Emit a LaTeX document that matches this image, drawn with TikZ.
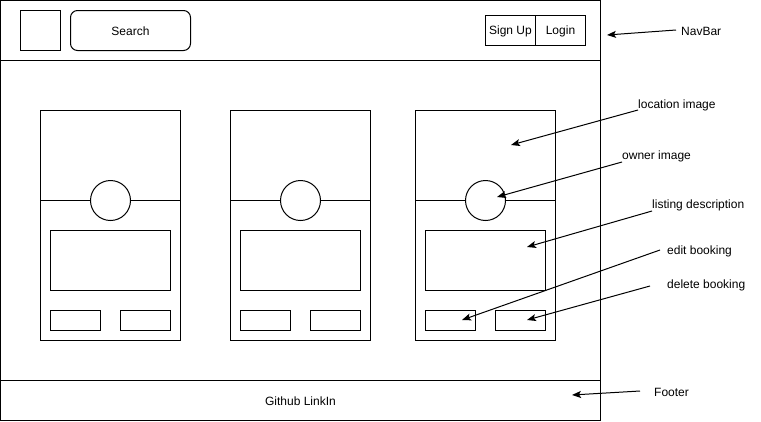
\documentclass[tikz,border=0pt]{standalone}
\usepackage{fontspec}
\setmainfont{Liberation Sans}
\usetikzlibrary{arrows.meta}
\tikzset{
	wire/.style={draw=black, line width=1pt},
	note/.style={inner sep=0pt, font=\fontsize{12}{14}\selectfont, yshift=-1pt},
	pointer/.style={line width=1pt, -{Stealth[length=9pt,width=7pt,inset=2pt]}}
}
\begin{document}
\begin{tikzpicture}[x=1pt,y=-1pt]
		\useasboundingbox (0,0) rectangle (761,421);
		% page frame, navbar and footer
		\draw [wire] (0.5,0.5) rectangle (600.5,420.5);
		\draw [wire] (0.5,60.5)--(600.5,60.5);
		\draw [wire] (0.5,380.5)--(600.5,380.5);
		\draw [wire] (20.5,10.5) rectangle (60.5,50.5);
		\draw [wire,rounded corners=7pt] (70.5,10.5) rectangle node [note] (search) {Search} (190.5,50.5);
		\draw [wire] (485.5,15.5) rectangle node [note] (signup) {Sign Up} (535.5,45.5);
		\draw [wire] (535.5,15.5) rectangle node [note] (login) {Login} (585.5,45.5);
		\node [note] (links) at (300.5,400.5) {Github LinkIn};
		% listing cards
		\foreach \cx in {40,230,415}{
			\draw [wire] (\cx+0.5,110.5) rectangle (\cx+140.5,340.5);
			\draw [wire] (\cx+0.5,200.5)--(\cx+140.5,200.5);
			\draw [wire,fill=white] (\cx+70.5,200.5) circle (20);
			\draw [wire] (\cx+10.5,230.5) rectangle (\cx+130.5,290.5);
			\draw [wire] (\cx+10.5,310.5) rectangle (\cx+60.5,330.5);
			\draw [wire] (\cx+80.5,310.5) rectangle (\cx+130.5,330.5);
		}
		% annotations
		\node [note,anchor=west] (navbar) at (681,30) {NavBar};
		\node [note,anchor=west] (locimg) at (638,104) {location image};
		\node [note,anchor=west] (ownimg) at (622,155) {owner image};
		\node [note,anchor=west] (listdesc) at (652,204) {listing description};
		\node [note,anchor=west] (editbk) at (667,250) {edit booking};
		\node [note,anchor=west] (delbk) at (667,284) {delete booking};
		\node [note,anchor=west] (footer) at (654,391) {Footer};
		\coordinate (navbar-tip) at (607,35);
		\coordinate (locimg-tip) at (511,145);
		\coordinate (ownimg-tip) at (497,197);
		\coordinate (listdesc-tip) at (527,247);
		\coordinate (editbk-tip) at (462,320);
		\coordinate (delbk-tip) at (527,320);
		\coordinate (footer-tip) at (572,395);
		\draw [pointer] ([xshift=-5pt,yshift=1pt]navbar.west)--(navbar-tip);
		\draw [pointer] ([yshift=-5pt]locimg.west)--(locimg-tip);
		\draw [pointer] ([yshift=-6pt]ownimg.west)--(ownimg-tip);
		\draw [pointer] ([yshift=-6pt]listdesc.west)--(listdesc-tip);
		\draw [pointer] ([xshift=-7pt,yshift=1pt]editbk.west)--(editbk-tip);
		\draw [pointer] ([xshift=-17pt,yshift=-1pt]delbk.west)--(delbk-tip);
		\draw [pointer] ([xshift=-14pt,yshift=1pt]footer.west)--(footer-tip);
	\end{tikzpicture}
\end{document}
